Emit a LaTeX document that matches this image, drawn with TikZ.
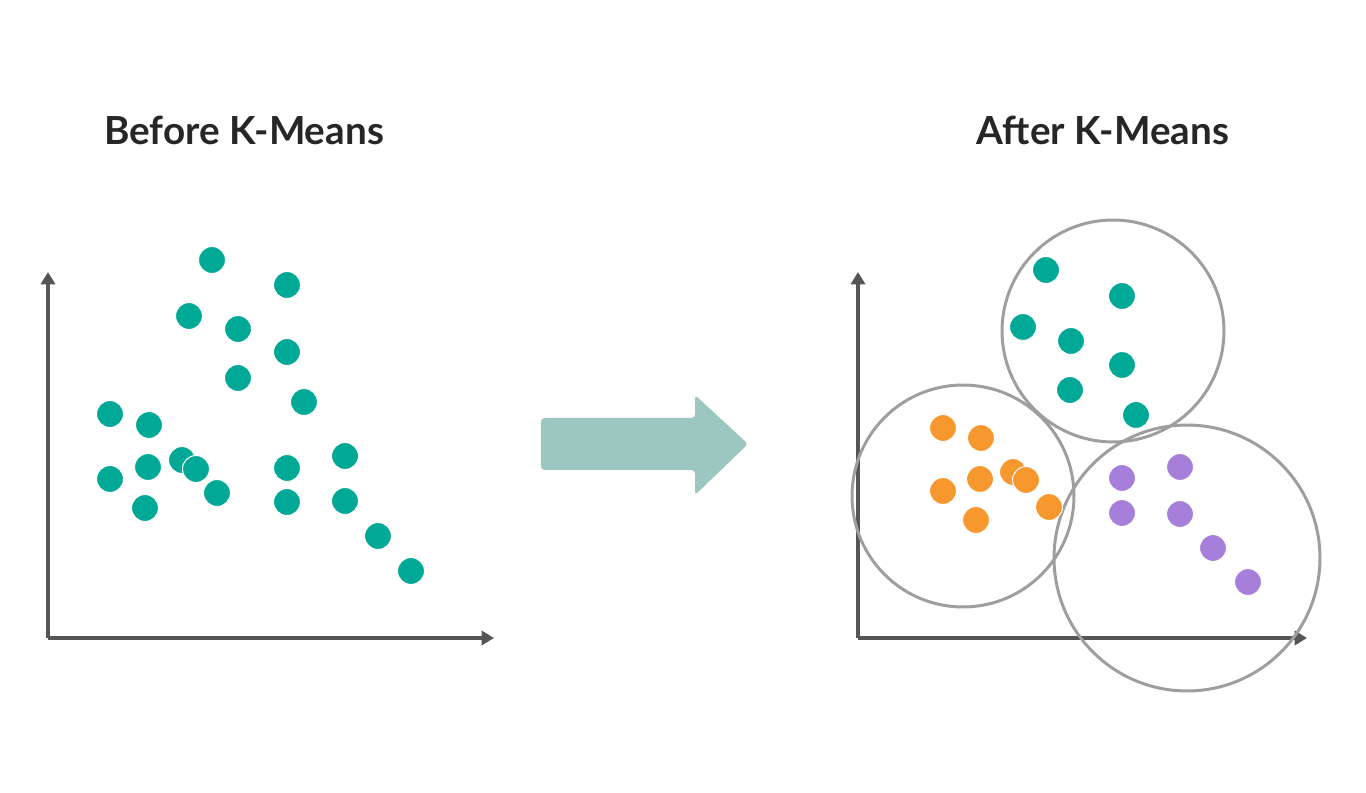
\documentclass[tikz,border=0pt]{standalone}
\usepackage{fontspec}
\setmainfont{Lato}
\usetikzlibrary{arrows.meta}
\definecolor{teal}{HTML}{00A896}
\definecolor{orng}{HTML}{F7982F}
\definecolor{purp}{HTML}{A67FDB}
\definecolor{axis}{HTML}{555555}
\definecolor{ring}{HTML}{9E9E9E}
\definecolor{flow}{HTML}{9CC6C0}
\begin{document}
\begin{tikzpicture}[x=0.02cm,y=-0.02cm,
  dot/.style={circle,draw=white,line width=0.6pt,inner sep=0pt,minimum size=0.54cm},
  axisline/.style={draw=axis,line width=2.2pt,-{Triangle[length=7pt,width=8pt]}},
  cluster/.style={circle,draw=ring,line width=1.7pt,inner sep=0pt},
  title/.style={font=\bfseries\fontsize{22}{26}\selectfont,text=black!85}]
\useasboundingbox (0,0) rectangle (1366,793);
% titles
\node (t1) at (244,130) [title] {Before K-Means};
\node (t2) at (1103,130) [title] {After K-Means};
% left axes
\coordinate (o1) at (48,638);
\coordinate (y1) at (48,272);
\coordinate (x1) at (494,638);
\draw [axisline] (o1) -- (y1);
\draw [axisline] (o1) -- (x1);
\foreach \x/\y [count=\i] in {212/260,287/285,189/316,238/329,287/352,238/378,304/402,
  110/414,149/425,148/467,110/479,182/460,196/469,217/493,287/468,287/502,345/456,
  345/501,145/508,378/536,411/571}
  \node (p\i) at (\x,\y) [dot,fill=teal] {};
% arrow
\fill [flow,rounded corners=2pt] (541,418) -- (695,418) -- (695,395) -- (748,444)
  -- (695,495) -- (695,470) -- (541,470) -- cycle;
% right axes
\coordinate (o2) at (858,638);
\coordinate (y2) at (858,272);
\coordinate (x2) at (1307,638);
\draw [axisline] (o2) -- (y2);
\draw [axisline] (o2) -- (x2);
% clusters
\node (c1) at (1113,331) [cluster,minimum size=4.44cm] {};
\node (c2) at (963,496) [cluster,minimum size=4.44cm] {};
\node (c3) at (1187,558) [cluster,minimum size=5.32cm] {};
\foreach \x/\y [count=\i] in {1046/270,1122/296,1023/327,1071/341,1122/365,1070/390,1136/415}
  \node (a\i) at (\x,\y) [dot,fill=teal] {};
\foreach \x/\y [count=\i] in {943/428,981/438,943/491,980/479,1013/472,1026/480,1049/507,976/520}
  \node (b\i) at (\x,\y) [dot,fill=orng] {};
\foreach \x/\y [count=\i] in {1122/478,1180/467,1122/513,1180/514,1213/548,1248/582}
  \node (d\i) at (\x,\y) [dot,fill=purp] {};
\end{tikzpicture}
\end{document}
